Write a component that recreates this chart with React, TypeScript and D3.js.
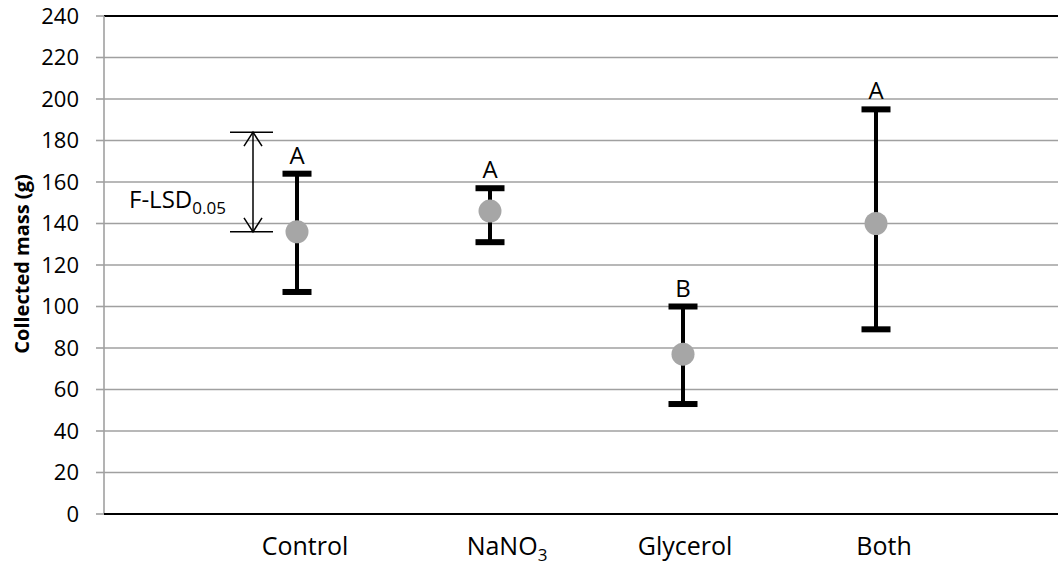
import React from "react";
import * as d3 from "d3";

const categories = ["Control", "NaNO3", "Glycerol", "Both"];
const means = [136, 146, 77, 140];
const upper = [164, 157, 100, 195];
const lower = [107, 131, 53, 89];
const letters = ["A", "A", "B", "A"];
const yTicks = [0, 20, 40, 60, 80, 100, 120, 140, 160, 180, 200, 220, 240];
const lsdRange = [136, 184];

const W = 1058;
const H = 565;
const left = 104;
const top = 16;
const bottom = 514;
const FONT = "'Open Sans', Lato, sans-serif";
// small horizontal nudges for the category captions
const labelShift = [8, 17, 2, 8];

export default function App() {
  const y = d3.scaleLinear().domain([0, 240]).range([bottom, top]);
  const x = d3.scaleLinear().domain([0, 5]).range([left, 1069]);
  const gridColor = "#a0a0a0";
  const capW = 29;
  const lsdX = 253;
  const lsdY0 = y(lsdRange[0]);
  const lsdY1 = y(lsdRange[1]);

  const renderLabel = (c: string) => {
    const m = c.match(/^(.*?)(\d+)$/);
    if (m) {
      return (
        <>
          {m[1]}
          <tspan fontSize={17} dy={6}>{m[2]}</tspan>
        </>
      );
    }
    return c;
  };

  return (
    <svg
      width={W}
      height={H}
      style={{ position: "absolute", left: 0, top: 0, background: "#fff" }}
      fontFamily={FONT}
    >
      {/* gridlines */}
      {yTicks.map((t) => (
        <g key={t}>
          {t !== 0 && t !== 240 && (
            <line x1={left} x2={W} y1={y(t)} y2={y(t)} stroke={gridColor} strokeWidth={1.6} />
          )}
          <line x1={left - 8} x2={left} y1={y(t)} y2={y(t)} stroke={gridColor} strokeWidth={1.6} />
          <text
            x={left - 25}
            y={y(t)}
            dy="0.36em"
            textAnchor="end"
            fontSize={22}
            fill="#000"
          >
            {t}
          </text>
        </g>
      ))}
      {/* plot border / axes */}
      <line x1={left} x2={W} y1={top} y2={top} stroke="#000" strokeWidth={2} />
      <line x1={left} x2={left} y1={top} y2={bottom} stroke={gridColor} strokeWidth={1.6} />
      <line x1={left} x2={W} y1={bottom} y2={bottom} stroke="#000" strokeWidth={2} />

      {/* y axis title */}
      <text
        transform={`translate(29, ${264}) rotate(-90)`}
        textAnchor="middle"
        fontSize={20}
        fontWeight="bold"
        fill="#000"
      >
        Collected mass (g)
      </text>

      {/* LSD bracket */}
      <g stroke="#000" strokeWidth={1.5} fill="none">
        <line x1={lsdX - 23} x2={lsdX + 20} y1={lsdY1} y2={lsdY1} />
        <line x1={lsdX - 23} x2={lsdX + 20} y1={lsdY0} y2={lsdY0} />
        <line x1={lsdX} x2={lsdX} y1={lsdY1} y2={lsdY0} />
        <polyline points={`${lsdX - 9},${lsdY1 + 14} ${lsdX},${lsdY1} ${lsdX + 9},${lsdY1 + 14}`} />
        <polyline points={`${lsdX - 9},${lsdY0 - 14} ${lsdX},${lsdY0} ${lsdX + 9},${lsdY0 - 14}`} />
      </g>
      <text x={129} y={208} fontSize={24} fill="#000">
        F-LSD<tspan fontSize={17} dy={6}>0.05</tspan>
      </text>

      {/* error bars and means */}
      {categories.map((c, i) => {
        const cx = x(i + 1);
        return (
          <g key={c}>
            <line x1={cx} x2={cx} y1={y(upper[i])} y2={y(lower[i])} stroke="#000" strokeWidth={4} />
            <rect x={cx - capW / 2} y={y(upper[i]) - 3} width={capW} height={6} fill="#000" />
            <rect x={cx - capW / 2} y={y(lower[i]) - 3} width={capW} height={6} fill="#000" />
            <circle cx={cx} cy={y(means[i])} r={11.5} fill="#a6a6a6" />
            <text x={cx} y={y(upper[i]) - 10} textAnchor="middle" fontSize={24} fill="#000">
              {letters[i]}
            </text>
            <text x={cx + labelShift[i]} y={555} textAnchor="middle" fontSize={25} fill="#000">
              {renderLabel(c)}
            </text>
          </g>
        );
      })}
    </svg>
  );
}
